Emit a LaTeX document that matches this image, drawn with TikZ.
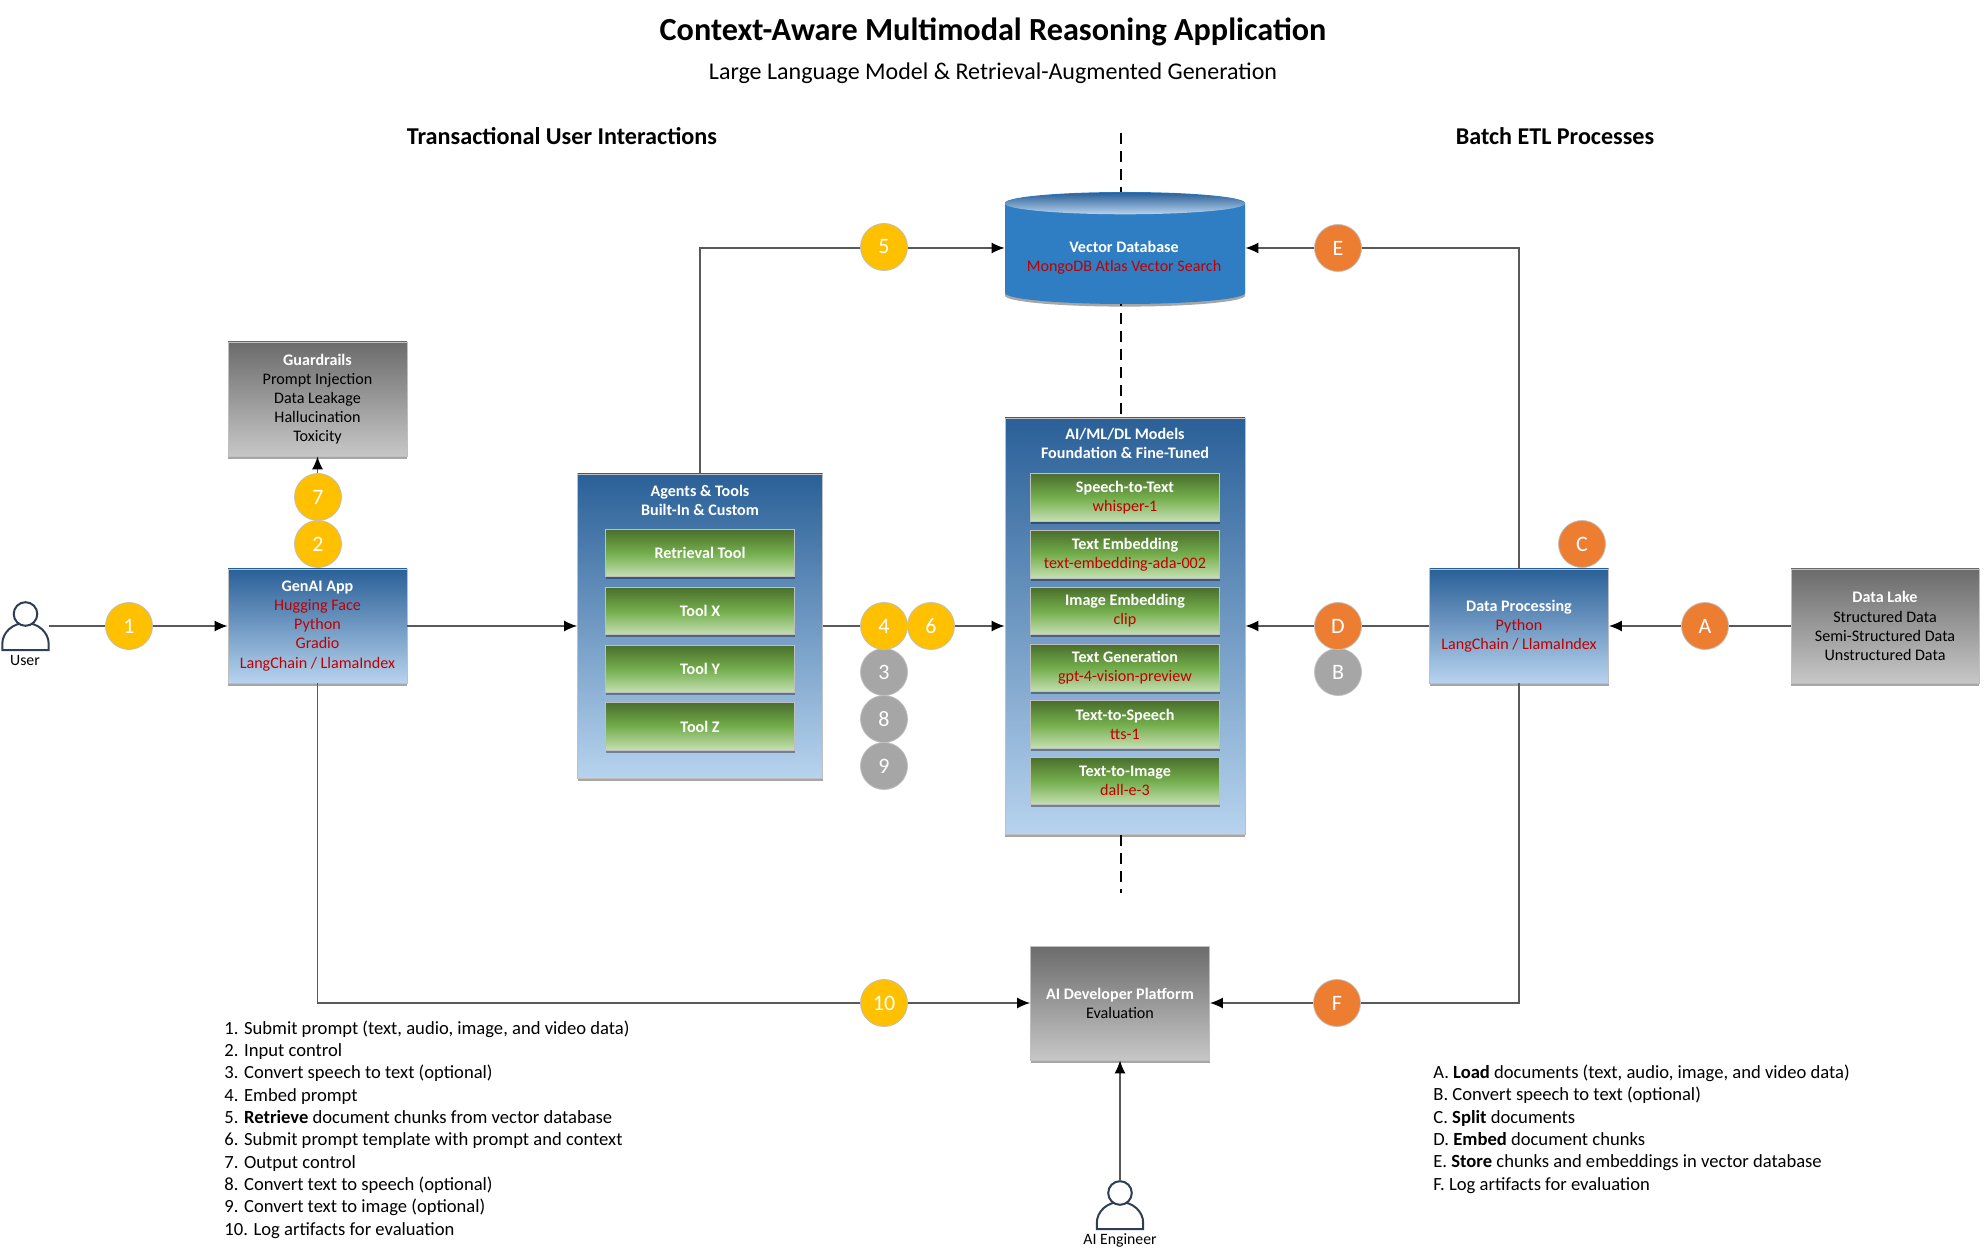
\documentclass[tikz,border=0pt]{standalone}
\usepackage{fontspec}
\setmainfont{Carlito}
\usetikzlibrary{arrows.meta,shadows}

\definecolor{linegray}{HTML}{595959}
\definecolor{redtext}{HTML}{C00000}
\definecolor{edgegray}{HTML}{BFBFBF}
\definecolor{numyellow}{HTML}{FFC000}
\definecolor{letorange}{HTML}{ED7D31}
\definecolor{optgray}{HTML}{A6A6A6}
\definecolor{iconblue}{HTML}{2F3E55}
\definecolor{greentop}{HTML}{4A6E2C}
\definecolor{greenmid}{HTML}{74AE4C}
\definecolor{greenbot}{HTML}{C6E0B4}
\definecolor{bluetop}{HTML}{2A6098}
\definecolor{bluebot}{HTML}{B7D3EE}
\definecolor{vdbblue}{HTML}{2F7DC3}

\newcommand{\rd}[1]{\textcolor{redtext}{#1}}
\newcommand{\wb}[1]{\textcolor{white}{\textbf{#1}}}

\tikzset{
  boxshadow/.style={drop shadow={shadow xshift=0pt,shadow yshift=-1.3pt,opacity=.35,fill=black}},
  boxtext/.style={align=center,inner sep=0pt,font=\fontsize{8.05}{9.55}\selectfont},
  bluebox/.style={draw=edgegray,line width=.4pt,top color=bluetop,bottom color=bluebot,boxshadow,boxtext},
  graybox/.style={bluebox,top color=black!58,bottom color=black!22},
  greenbox/.style={bluebox,top color=greentop,bottom color=greenbot,middle color=greenmid,minimum width=94.5pt,minimum height=23.8pt},
  numdot/.style={circle,draw=edgegray,line width=.4pt,fill=numyellow,text=white,minimum size=23.5pt,inner sep=0pt,font=\fontsize{11}{13}\selectfont},
  letdot/.style={numdot,fill=letorange},
  optdot/.style={numdot,fill=optgray},
  conn/.style={draw=linegray,line width=.7pt,-{Latex[length=6.5pt,width=5.5pt,black]}},
  dashline/.style={draw=black,line width=1.1pt,dash pattern=on 5.5pt off 3.5pt},
  iconholder/.style={minimum width=23.5pt,minimum height=23.5pt,inner sep=0pt},
  listtext/.style={anchor=north west,align=left,inner sep=0pt,font=\fontsize{9.3}{11.17}\selectfont},
  iconlabel/.style={font=\fontsize{7.9}{9}\selectfont},
  person/.pic={
    \draw[iconblue,line width=1pt,fill=white] (-11.6pt,-12pt) -- (-11.6pt,-9pt) arc[start angle=180,end angle=0,x radius=11.6pt,y radius=10.5pt] -- (11.6pt,-12pt) -- cycle;
    \draw[iconblue,line width=1pt,fill=white] (0pt,6pt) circle (5.9pt);
  },
}

\begin{document}
\begin{tikzpicture}[x=.5pt,y=-.5pt]
\useasboundingbox (0,0) rectangle (1986,1256);

% headings
\node (title) at (993,31.5) {\fontsize{16.1}{18}\selectfont\textbf{Context-Aware Multimodal Reasoning Application}};
\node (subtitle) at (993,73) {\fontsize{12}{14}\selectfont Large Language Model \& Retrieval-Augmented Generation};
\node (txhead) at (562,136) {\fontsize{12.1}{14}\selectfont\textbf{Transactional User Interactions}};
\node (etlhead) at (1555,136) {\fontsize{12.05}{14}\selectfont\textbf{Batch ETL Processes}};

% dashed divider runs behind the boxes
\coordinate (dashtop) at (1121,133);
\coordinate (dashbot) at (1121,893);
\draw[dashline] (dashtop) -- (dashbot);

% boxes
\node[graybox,minimum width=89.5pt,minimum height=57pt] (guardrails) at (317.5,399) {\wb{Guardrails}\\Prompt Injection\\Data Leakage\\Hallucination\\Toxicity};
\node[bluebox,minimum width=89.5pt,minimum height=57pt] (genai) at (317.5,626) {\wb{GenAI App}\\\rd{Hugging Face}\\\rd{Python}\\\rd{Gradio}\\\rd{LangChain / LlamaIndex}};
\node[bluebox,minimum width=122.5pt,minimum height=152pt] (agents) at (700,626) {};
\node[bluebox,minimum width=120pt,minimum height=208pt] (models) at (1125,626) {};
\node[bluebox,minimum width=89.5pt,minimum height=57pt] (dataproc) at (1519,626) {\wb{Data Processing}\\\rd{Python}\\\rd{LangChain / LlamaIndex}};
\node[graybox,minimum width=94pt,minimum height=57pt] (datalake) at (1885,626) {\wb{Data Lake}\\Structured Data\\Semi-Structured Data\\Unstructured Data};
\node[graybox,minimum width=89.5pt,minimum height=57pt] (devplat) at (1120,1003) {\wb{AI Developer Platform}\\Evaluation};

% vector store
\node[minimum width=120pt,minimum height=55.5pt,inner sep=0pt] (vdb) at (1125,248) {};
\path[fill=vdbblue,boxshadow] (1005,203) -- (1005,293) arc[start angle=180,end angle=360,x radius=60pt,y radius=5.5pt] -- (1245,203) arc[start angle=0,end angle=180,x radius=60pt,y radius=5.5pt] -- cycle;
\shade[top color=bluetop,bottom color=bluebot] (1125,203.5) ellipse (60pt and 5.4pt);
\node[boxtext] (vdbtext) at (1124,258) {\wb{Vector Database}\\\rd{MongoDB Atlas Vector Search}};

% inner boxes
\node[boxtext] (agentstitle) at (700,500) {\wb{Agents \& Tools}\\\wb{Built-In \& Custom}};
\node[greenbox] (retrieval) at (700,553) {\wb{Retrieval Tool}};
\node[greenbox] (toolx) at (700,611) {\wb{Tool X}};
\node[greenbox] (tooly) at (700,669) {\wb{Tool Y}};
\node[greenbox] (toolz) at (700,726.5) {\wb{Tool Z}};
\node[boxtext] (modelstitle) at (1125,443) {\wb{AI/ML/DL Models}\\\wb{Foundation \& Fine-Tuned}};
\node[greenbox] (speech) at (1125,497.5) {\wb{Speech-to-Text}\\\rd{whisper-1}};
\node[greenbox] (textemb) at (1125,554.5) {\wb{Text Embedding}\\\rd{text-embedding-ada-002}};
\node[greenbox] (imgemb) at (1125,611) {\wb{Image Embedding}\\\rd{clip}};
\node[greenbox] (textgen) at (1125,668) {\wb{Text Generation}\\\rd{gpt-4-vision-preview}};
\node[greenbox] (tts) at (1125,724.5) {\wb{Text-to-Speech}\\\rd{tts-1}};
\node[greenbox] (tti) at (1125,781) {\wb{Text-to-Image}\\\rd{dall-e-3}};

% people
\node[iconholder] (user) at (25.5,626) {};
\pic at (user) {person};
\node[iconlabel] (userlabel) at (25,660) {User};
\node[iconholder] (engineer) at (1120,1205) {};
\pic at (engineer) {person};
\node[iconlabel] (engineerlabel) at (1120,1240) {AI Engineer};

% connectors
\draw[conn] (user.east) -- (genai.west);
\draw[conn] (genai.north) -- (guardrails.south);
\draw[conn] (genai.east) -- (agents.west);
\draw[conn] (agents.north) |- (vdb.west);
\draw[conn] (agents.east) -- (models.west);
\draw[conn] (genai.south) |- (devplat.west);
\draw[conn] (dataproc.north) |- (vdb.east);
\draw[conn] (dataproc.west) -- (models.east);
\draw[conn] (dataproc.south) |- (devplat.east);
\draw[conn] (datalake.west) -- (dataproc.east);
\draw[conn] (engineer.north) -- (devplat.south);

% step markers
\node[numdot] (s1) at (129,626) {1};
\node[numdot] (s2) at (318,544) {2};
\node[optdot] (s3) at (884,672) {3};
\node[numdot] (s4) at (884,626) {4};
\node[numdot] (s5) at (884,247) {5};
\node[numdot] (s6) at (931,626) {6};
\node[numdot] (s7) at (318,497) {7};
\node[optdot] (s8) at (884,719) {8};
\node[optdot] (s9) at (884,766) {9};
\node[numdot] (s10) at (884,1003) {10};
\node[letdot] (sa) at (1705,626) {A};
\node[optdot] (sb) at (1338,672) {B};
\node[letdot] (sc) at (1582,544) {C};
\node[letdot] (sd) at (1338,626) {D};
\node[letdot] (se) at (1338,248) {E};
\node[letdot] (sf) at (1337,1003) {F};

% step lists
\node[listtext] (leftlist) at (224,1020) {1. Submit prompt (text, audio, image, and video data)\\2. Input control\\3. Convert speech to text (optional)\\4. Embed prompt\\5. \textbf{Retrieve} document chunks from vector database\\6. Submit prompt template with prompt and context\\7. Output control\\8. Convert text to speech (optional)\\9. Convert text to image (optional)\\10. Log artifacts for evaluation};
\node[listtext] (rightlist) at (1433,1064.5) {A. \textbf{Load} documents (text, audio, image, and video data)\\B. Convert speech to text (optional)\\C. \textbf{Split} documents\\D. \textbf{Embed} document chunks\\E. \textbf{Store} chunks and embeddings in vector database\\F. Log artifacts for evaluation};
\end{tikzpicture}
\end{document}
